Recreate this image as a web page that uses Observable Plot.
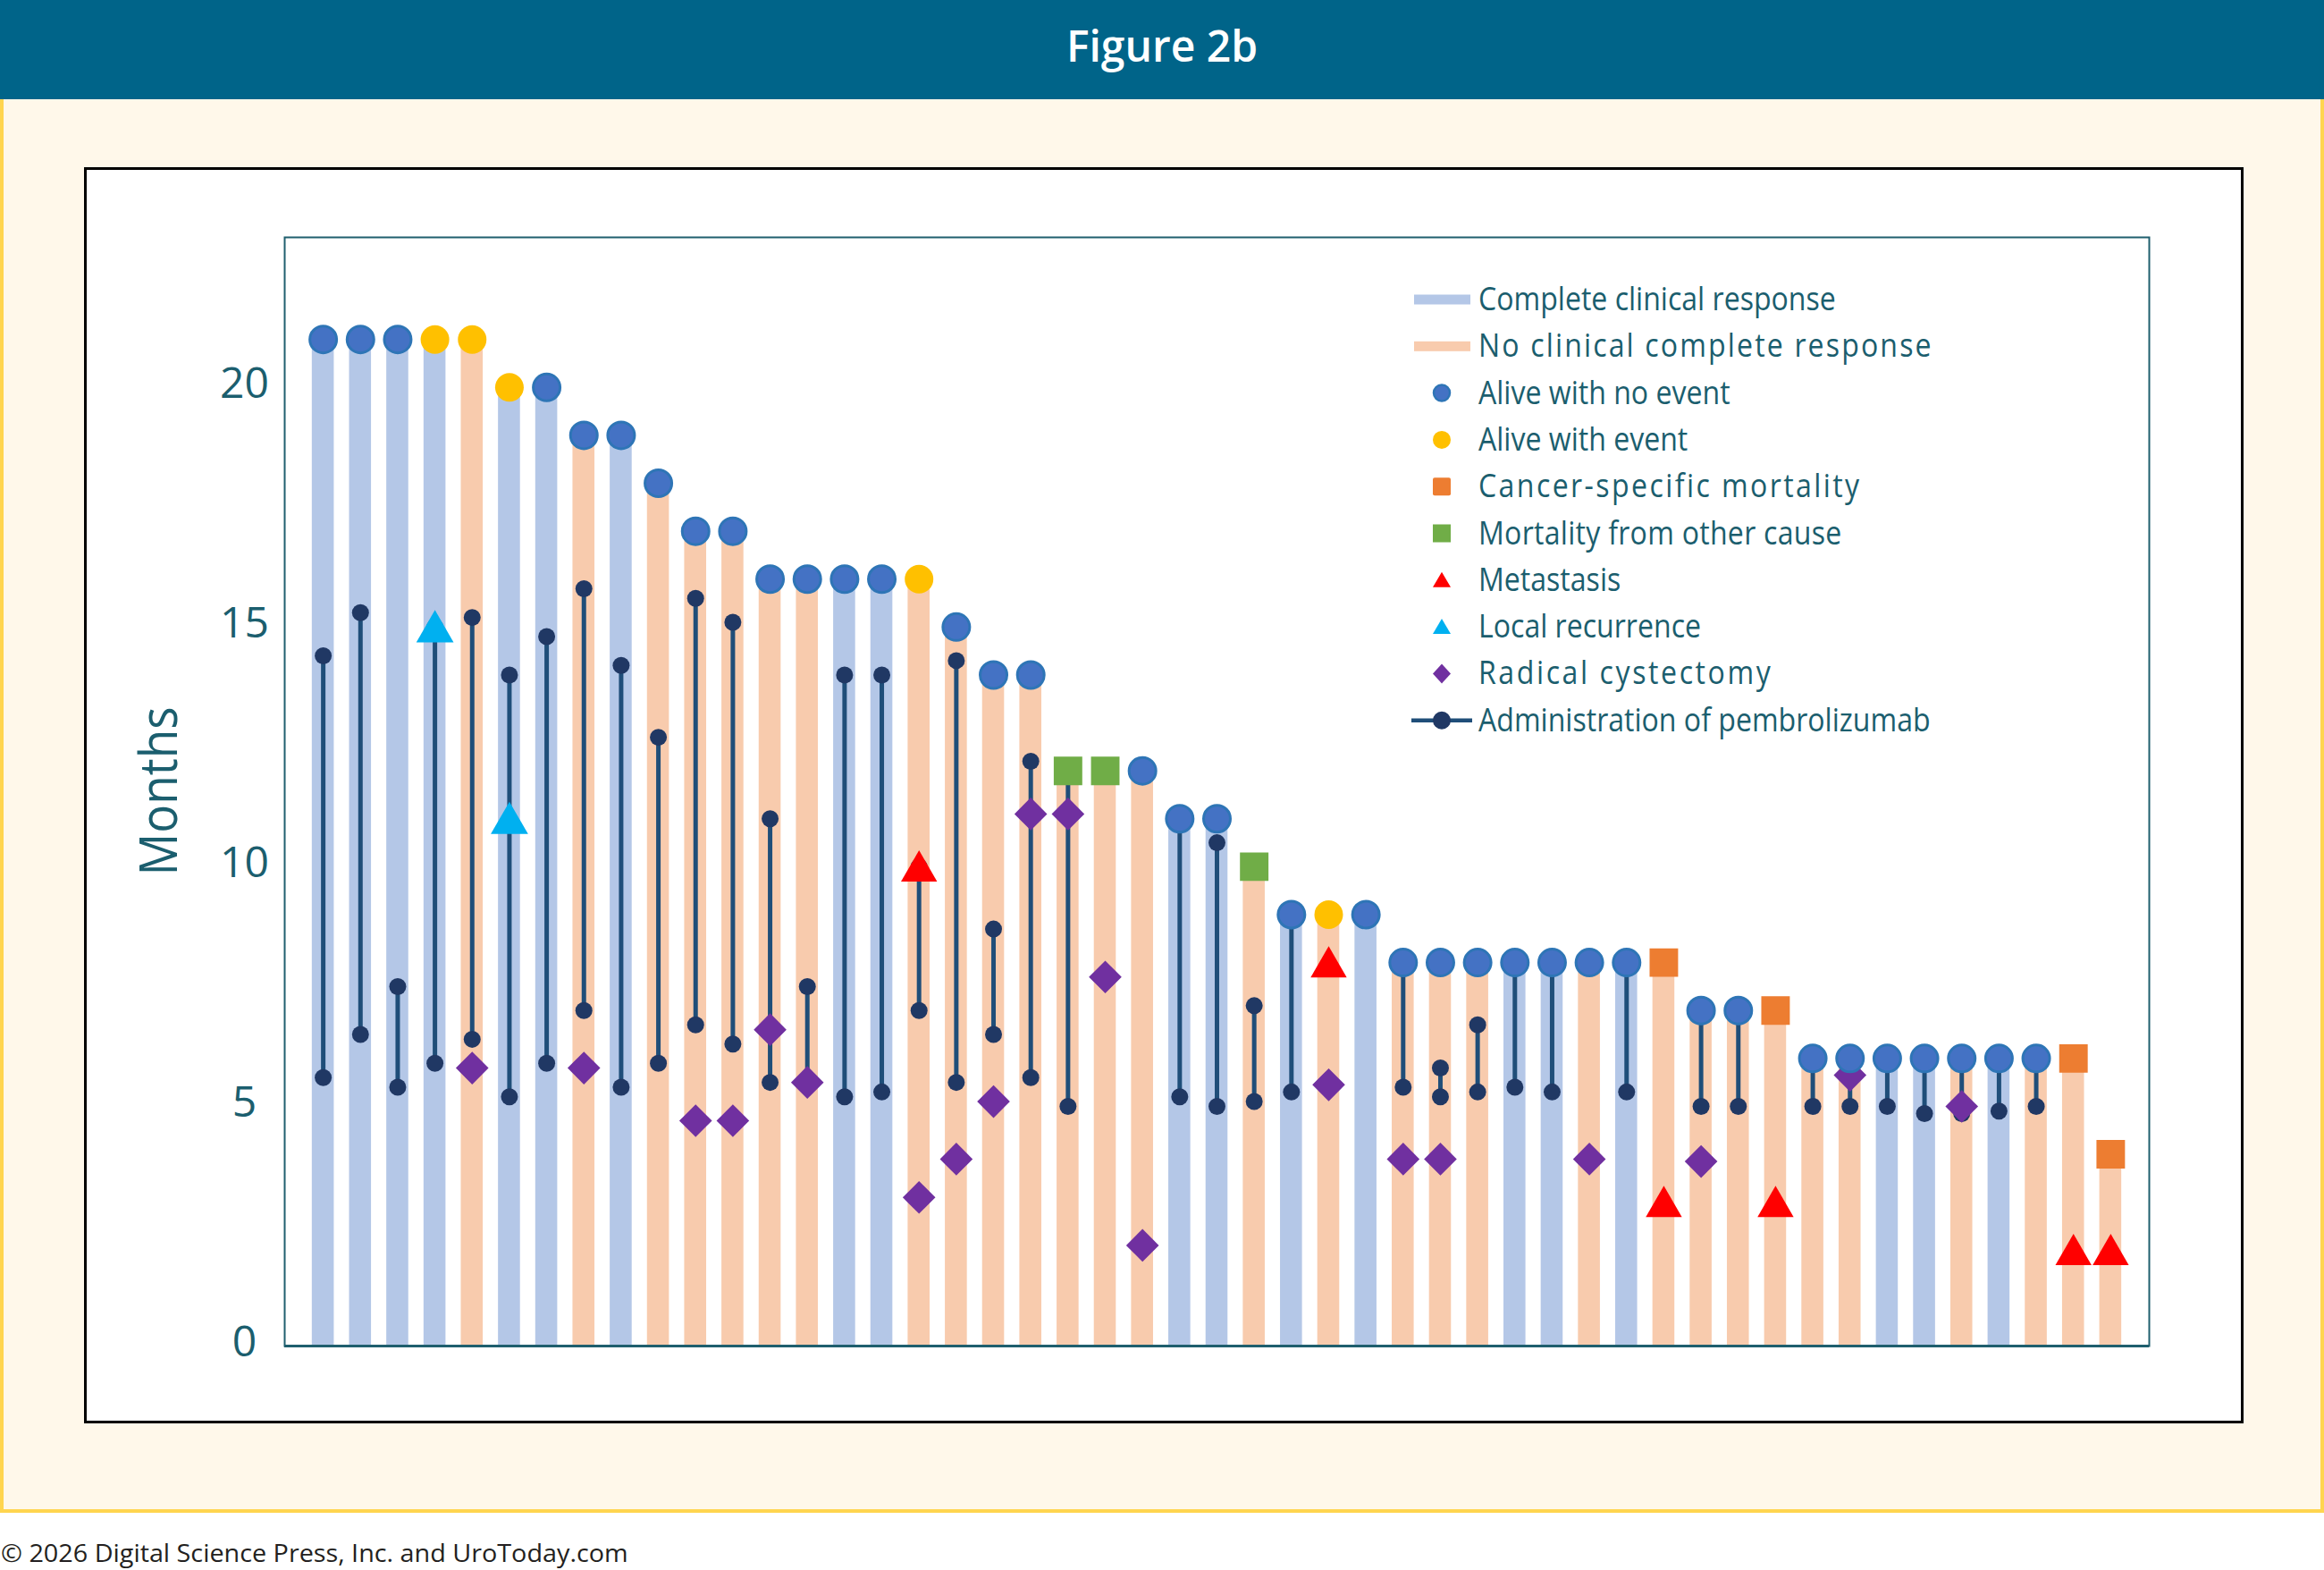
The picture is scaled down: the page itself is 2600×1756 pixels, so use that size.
<!DOCTYPE html>
<html><head><meta charset="utf-8">
<script src="https://cdn.jsdelivr.net/npm/d3@7"></script>
<script src="https://cdn.jsdelivr.net/npm/@observablehq/plot@0.6"></script>
<style>
html,body{margin:0;padding:0;background:#fff;}
body{width:2600px;height:1756px;position:relative;overflow:hidden;font-family:"Open Sans",sans-serif;}
#header{position:absolute;left:0;top:0;width:2600px;height:111px;background:#006489;}
#panel{position:absolute;left:0;top:111px;width:2600px;height:1581px;box-sizing:border-box;background:#FFF8EA;border:4px solid #FFD54F;border-top:none;}
#box{position:absolute;left:94px;top:187px;width:2416px;height:1405px;box-sizing:border-box;background:#fff;border:3px solid #000;}
#chart{position:absolute;left:94px;top:187px;}
#overlay{position:absolute;left:0;top:0;pointer-events:none;}
</style></head><body>
<div id="header"></div><div id="panel"></div><div id="box"></div><div id="chart"></div>
<svg id="overlay" width="2600" height="1756"></svg>
<script>
// ---------- data ----------
const patients = d3.range(1, 50);
const months = [21,21,21,21,21,20,20,19,19,18,17,17,16,16,16,16,16,15,14,14,12,12,12,11,11,10,9,9,9,8,8,8,8,8,8,8,8,7,7,7,6,6,6,6,6,6,6,6,4];
const response = ["CR","CR","CR","CR","NCR","CR","CR","NCR","CR","NCR","NCR","NCR","NCR","NCR","CR","CR","NCR","NCR","NCR","NCR","NCR","NCR","NCR","CR","CR","NCR","CR","NCR","CR","NCR","NCR","NCR","CR","CR","NCR","CR","NCR","NCR","NCR","NCR","NCR","NCR","CR","CR","NCR","CR","NCR","NCR","NCR"];
// A = alive with no event, E = alive with event, C = cancer-specific mortality, O = mortality from other cause
const status = ["A","A","A","E","E","E","A","A","A","A","A","A","A","A","A","A","E","A","A","A","O","O","A","A","A","O","A","E","A","A","A","A","A","A","A","A","C","A","A","C","A","A","A","A","A","A","A","C","C"];

const pembroPatients = [1,2,3,4,5,6,7,8,9,10,11,12,13,14,15,16,17,18,19,20,21,24,25,26,27,30,31,32,33,34,36,38,39,41,42,43,44,45,46,47];
const pembroStart    = [5.6,6.5,5.4,5.9,6.4,5.2,5.9,7.0,5.4,5.9,6.7,6.3,5.5,5.5,5.2,5.3,7.0,5.5,6.5,5.6,5.0,5.2,5.0,5.1,5.3,5.4,5.2,5.3,5.4,5.3,5.3,5.0,5.0,5.0,5.0,5.0,4.85,4.85,4.9,5.0];
const pembroEnd      = [14.4,15.3,7.5,15.0,15.2,14.0,14.8,15.8,14.2,12.7,15.6,15.1,11.0,7.5,14.0,14.0,10.0,14.3,8.7,12.2,12.0,11.0,10.5,7.1,9.0,8.0,5.8,6.7,8.0,8.0,8.0,7.0,7.0,6.0,6.0,6.0,6.0,6.0,6.0,6.0];

const cystPatients = [5,8,11,12,13,14,17,18,19,20,21,22,23,28,30,31,35,38,42,45];
const cystMonths   = [5.8,5.8,4.7,4.7,6.6,5.5,3.1,3.9,5.1,11.1,11.1,7.7,2.1,5.45,3.9,3.9,3.9,3.85,5.65,5.0];

const metPatients = [17,28,37,40,48,49];
const metMonths   = [10,8,3,3,2,2];

const lrPatients = [4,6];
const lrMonths   = [15,11];

const yTicks = [0,5,10,15,20];

// ---------- tables ----------
const bars = patients.map((p,i)=>({patient:p, months:months[i], response:response[i], status:status[i]}));
const pembro = pembroPatients.map((p,i)=>({patient:p, start:pembroStart[i], end:pembroEnd[i]}));
const pembroDots = pembro.flatMap(d=>[{patient:d.patient, m:d.start},{patient:d.patient, m:d.end}]);
const cyst = cystPatients.map((p,i)=>({patient:p, m:cystMonths[i]}));
const met = metPatients.map((p,i)=>({patient:p, m:metMonths[i]}));
const lr = lrPatients.map((p,i)=>({patient:p, m:lrMonths[i]}));

const TEAL = "#1B5E6E";
const C = {cr:"#B4C7E7", ncr:"#F8CBAD", alive:"#4472C4", aliveStroke:"#2E75B6", event:"#FFC000",
  csm:"#ED7D31", other:"#70AD47", met:"#FF0000", lr:"#00B0F0", cyst:"#7030A0", pLine:"#1F4E79", pDot:"#203864"};

const chart = Plot.plot({
  width: 2416, height: 1405,
  marginLeft: 224, marginRight: 106, marginTop: 78, marginBottom: 87,
  style: {background:"transparent", fontFamily:"'Open Sans', sans-serif", fontSize:"48px", overflow:"visible"},
  x: {type:"band", domain: patients, paddingInner:0.41, paddingOuter:0.74, axis:null},
  y: {domain:[0,23.13]},
  marks: [
    Plot.barY(bars.filter(d=>d.response==="CR"), {x:"patient", y:"months", fill:C.cr}),
    Plot.barY(bars.filter(d=>d.response!=="CR"), {x:"patient", y:"months", fill:C.ncr}),
    Plot.frame({stroke:"#1F5F6E", strokeWidth:2}),
    Plot.ruleY([0], {stroke:"#1F5F6E", strokeWidth:3}),
    Plot.axisY({ticks:yTicks, tickSize:0, tickPadding:45, textAnchor:"middle", dy:-4, color:TEAL, label:null, fontSize:48}),
    Plot.ruleX(pembro, {x:"patient", y1:"start", y2:"end", stroke:C.pLine, strokeWidth:5}),
    Plot.dot(pembroDots, {x:"patient", y:"m", r:9.5, fill:C.pDot}),
    Plot.dot(cyst, {x:"patient", y:"m", symbol:"diamond2", r:16.5, fill:C.cyst}),
    Plot.dot(met, {x:"patient", y:"m", symbol:"triangle", r:15, fill:C.met, dy:5}),
    Plot.dot(lr, {x:"patient", y:"m", symbol:"triangle", r:15.5, fill:C.lr, dy:5}),
    Plot.dot(bars.filter(d=>d.status==="A"), {x:"patient", y:"months", r:15, fill:C.alive, stroke:C.aliveStroke, strokeWidth:3}),
    Plot.dot(bars.filter(d=>d.status==="E"), {x:"patient", y:"months", r:16, fill:C.event}),
    Plot.dot(bars.filter(d=>d.status==="C"), {x:"patient", y:"months", symbol:"square", r:18, fill:C.csm}),
    Plot.dot(bars.filter(d=>d.status==="O"), {x:"patient", y:"months", symbol:"square", r:18, fill:C.other})
  ]
});
document.getElementById("chart").appendChild(chart);

// ---------- overlay texts & legend ----------
const ov = d3.select("#overlay");
function fitText(sel, x, y, target, extra="") {
  const w = sel.node().getComputedTextLength();
  const k = target / w;
  sel.attr("transform", `translate(${x},${y}) ${extra} scale(${k},1)`);
  return k;
}
// title
ov.append("text").text("Figure 2b").attr("x",1300).attr("y",69).attr("text-anchor","middle")
  .attr("fill","#fff").attr("font-family","'Open Sans', sans-serif").attr("font-weight",600).attr("font-size",48);

// footer
const foot = ov.append("text").text("© 2026 Digital Science Press, Inc. and UroToday.com")
  .attr("fill","#231F20").attr("font-family","'Open Sans', sans-serif").attr("font-size",28);
fitText(foot, 1, 1747, 702);

// Months
const ml = ov.append("text").text("Months").attr("text-anchor","middle")
  .attr("fill",TEAL).attr("font-family","'Open Sans', sans-serif").attr("font-size",58);
fitText(ml, 198, 885, 189, "rotate(-90)");

const legendItems = [
  {label:"Complete clinical response", kind:"barCR", spacing:0},
  {label:"No clinical complete response", kind:"barNCR", spacing:2.4},
  {label:"Alive with no event", kind:"alive", spacing:0},
  {label:"Alive with event", kind:"event", spacing:0},
  {label:"Cancer-specific mortality", kind:"csm", spacing:2.7},
  {label:"Mortality from other cause", kind:"other", spacing:0.3},
  {label:"Metastasis", kind:"met", spacing:0},
  {label:"Local recurrence", kind:"lr", spacing:0},
  {label:"Radical cystectomy", kind:"cyst", spacing:2.9},
  {label:"Administration of pembrolizumab", kind:"pembro", spacing:0}
];
const lg = ov.append("g");
const texts = [];
legendItems.forEach((it,i)=>{
  const cy = 335 + i*52.3;
  const g = lg.append("g").attr("transform",`translate(1613,${cy})`);
  switch(it.kind){
    case "barCR": g.append("rect").attr("x",-31).attr("y",-5.5).attr("width",63).attr("height",11).attr("fill",C.cr); break;
    case "barNCR": g.append("rect").attr("x",-31).attr("y",-5.5).attr("width",63).attr("height",11).attr("fill",C.ncr); break;
    case "alive": g.append("circle").attr("r",9).attr("fill",C.alive).attr("stroke",C.aliveStroke).attr("stroke-width",2.5); break;
    case "event": g.append("circle").attr("r",10).attr("fill",C.event); break;
    case "csm": g.append("rect").attr("x",-10).attr("y",-10).attr("width",20).attr("height",20).attr("rx",2).attr("fill",C.csm); break;
    case "other": g.append("rect").attr("x",-10).attr("y",-10).attr("width",20).attr("height",20).attr("fill",C.other); break;
    case "met": g.append("path").attr("d","M0,-9L10,8L-10,8Z").attr("fill",C.met); break;
    case "lr": g.append("path").attr("d","M0,-9L10,8L-10,8Z").attr("fill",C.lr); break;
    case "cyst": g.append("path").attr("d","M0,-11L10,0L0,11L-10,0Z").attr("fill",C.cyst); break;
    case "pembro":
      g.append("line").attr("x1",-34).attr("x2",34).attr("stroke",C.pLine).attr("stroke-width",4.5);
      g.append("circle").attr("r",10).attr("fill",C.pDot); break;
  }
  const t = lg.append("text").text(it.label).attr("fill",TEAL)
    .attr("font-family","'Open Sans', sans-serif").attr("font-size",36)
    .attr("letter-spacing", it.spacing);
  texts.push({t, cy});
});
const k = 400 / texts[0].t.node().getComputedTextLength();
texts.forEach(({t,cy})=>t.attr("transform",`translate(1654,${cy+12}) scale(${k},1)`));
</script>
</body></html>
